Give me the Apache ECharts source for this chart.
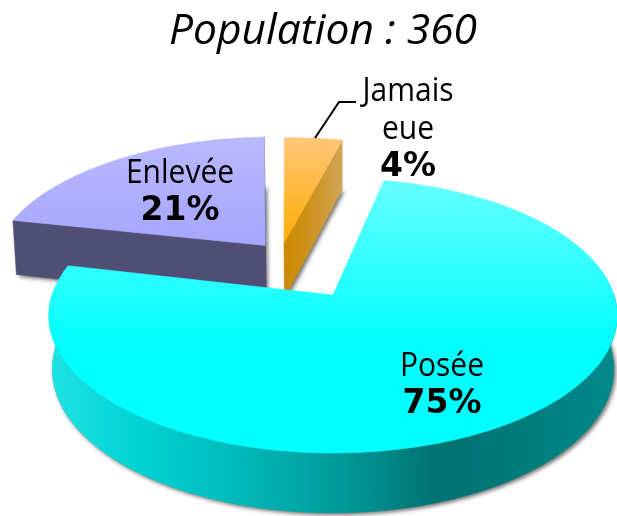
<!DOCTYPE html>
<html><head><meta charset="utf-8">
<style>html,body{margin:0;padding:0;background:#fff}#c{width:617px;height:516px}</style>
<script src="https://cdn.jsdelivr.net/npm/echarts@6/dist/echarts.min.js"></script>
</head><body><div id="c"></div>
<script>
// ---- data ----
const titleText = 'Population : 360';
const categories = ['Posée', 'Enlevée', 'Jamais eue'];
const values = [75, 21, 4];

// ---- pie layout (perspective disc) ----
const startAngle = 12, CX = 333, CY = 295, RX = 281, RY = 134.3, K = 0.15, DEPTH = 53.5, M = 0.012;
const explode = [[0, 0], [-0.255, 0.39], [-0.185, 0.41]];
const radiusScale = [[1, 1], [1.01, 1.04], [1, 1.01]];
const depthScale = [1, 1.1, 1.1];
const angleTweak = [[0, 1], [0, 0], [1, 1]];
const drawOrder = [20, 0, 10];
const labelAnchor = [[442, 367], [180, 174], [408, 92]];
const leaderLine = [[315, 138], [339, 102], [356, 102]];
const LF = '"Open Sans","Noto Sans",sans-serif', BF = '"DejaVu Sans",sans-serif';

const G = (x0, y0, x1, y1, stops) => new echarts.graphic.LinearGradient(x0, y0, x1, y1,
  stops.map(s => ({offset: s[0], color: s[1]})), true);
const topFill = [
  G(0, 180, 0, 345, [[0, '#66ffff'], [1, '#00ffff']]),
  G(0, 135, 0, 245, [[0, '#b9b9ff'], [1, '#a6a6ff']]),
  G(0, 137, 0, 246, [[0, '#ffc678'], [1, '#ffab00']])
];
const wallFill = [
  G(50, 0, 617, 0, [[0, '#1fe3e3'], [0.16, '#00d2d2'], [0.33, '#00baba'], [0.5, '#009c9c'], [0.67, '#007474'], [0.72, '#007272'], [1, '#008a8a']]),
  '#4f4f75',
  G(284, 0, 344, 0, [[0, '#cc8a00'], [0.55, '#cd9628'], [1, '#d2a65c']])
];

function proj(u, v, z, d) {
  const w = 1 + K * v + M * z;
  return [CX + RX * u / w, CY - RY * v / w + DEPTH * d * z / w];
}
const rad = d => d * Math.PI / 180;
function rim(i, a, z) {
  const t = rad(a), e = explode[i], r = radiusScale[i];
  return proj(e[0] + r[0] * Math.sin(t), e[1] + r[1] * Math.cos(t), z, depthScale[i]);
}
function arc(i, a0, a1, z) {
  const pts = [], n = Math.max(2, Math.ceil(Math.abs(a1 - a0) / 2));
  for (let k = 0; k <= n; k++) pts.push(rim(i, a0 + (a1 - a0) * k / n, z));
  return pts;
}
function sliceAngles(i) {
  const total = values.reduce((a, b) => a + b, 0);
  let a = startAngle;
  for (let k = 0; k < i; k++) a += values[k] / total * 360;
  return [a + angleTweak[i][0], a + values[i] / total * 360 + angleTweak[i][1]];
}

function renderItem(params, api) {
  const i = params.dataIndex, e = explode[i], base = drawOrder[i], d = depthScale[i];
  const val = api.value(0);
  const [a0, a1] = sliceAngles(i);
  const kids = [];
  const poly = (points, style, z) => kids.push({type: 'polygon', shape: {points}, style, z2: base + z, silent: true});
  const apex = z => proj(e[0], e[1], z, d);

  // soft shadow cast by the bottom face
  poly([apex(1)].concat(arc(i, a0, a1, 1)),
    {fill: 'rgba(130,130,130,0.9)', shadowBlur: 4, shadowColor: 'rgba(60,60,60,0.85)', shadowOffsetX: 2, shadowOffsetY: 2}, 0);

  // outer wall, front half of the disc only
  const wall = wallFill[i];
  const lo = Math.max(a0, 90), hi = Math.min(a1, 270);
  if (hi > lo) {
    poly(arc(i, lo, hi, 0).concat(arc(i, lo, hi, 1).reverse()), {fill: wall, stroke: wall, lineWidth: 0.5}, 1);
  }
  // cut faces that look toward the viewer
  [a0, a1].forEach((a, j) => {
    const faces = (i === 0) ? false : (i === 1 ? true : j === 1);
    if (!faces) return;
    poly([apex(0), rim(i, a, 0), rim(i, a, 1), apex(1)], {fill: wall, stroke: wall, lineWidth: 0.5}, 1);
  });

  // top face
  poly([apex(0)].concat(arc(i, a0, a1, 0)), {fill: topFill[i], stroke: topFill[i], lineWidth: 0.5}, 2);

  // labels
  const lines = categories[i].split(' ');
  const [lx, ly] = labelAnchor[i];
  lines.forEach((s, j) => kids.push({type: 'text', z2: 60, silent: true, x: lx, y: ly + j * 38, scaleY: 1.08,
    style: {x: 0, y: 0, text: s, fill: '#000', font: '400 30px ' + LF, align: 'center', verticalAlign: 'middle'}}));
  kids.push({type: 'text', z2: 60, silent: true, x: lx, y: ly + (lines.length - 1) * 38 + 37, scaleY: 1.02,
    style: {x: 0, y: 0, text: val + '%', fill: '#000', font: '700 33px ' + BF, align: 'center', verticalAlign: 'middle'}});
  if (i === 2) kids.push({type: 'polyline', z2: 60, silent: true, shape: {points: leaderLine},
    style: {stroke: '#000', lineWidth: 2, fill: null}});
  return {type: 'group', children: kids};
}

const chart = echarts.init(document.getElementById('c'), null, {renderer: 'canvas'});
chart.setOption({
  animation: false,
  backgroundColor: '#fff',
  title: {text: titleText, left: 318, top: 5, textAlign: 'center',
    textStyle: {fontFamily: LF, fontStyle: 'italic', fontWeight: 400, fontSize: 42.5, color: '#000'}},
  series: [{type: 'custom', coordinateSystem: 'none', renderItem, data: values, clip: false}]
});
</script></body></html>
